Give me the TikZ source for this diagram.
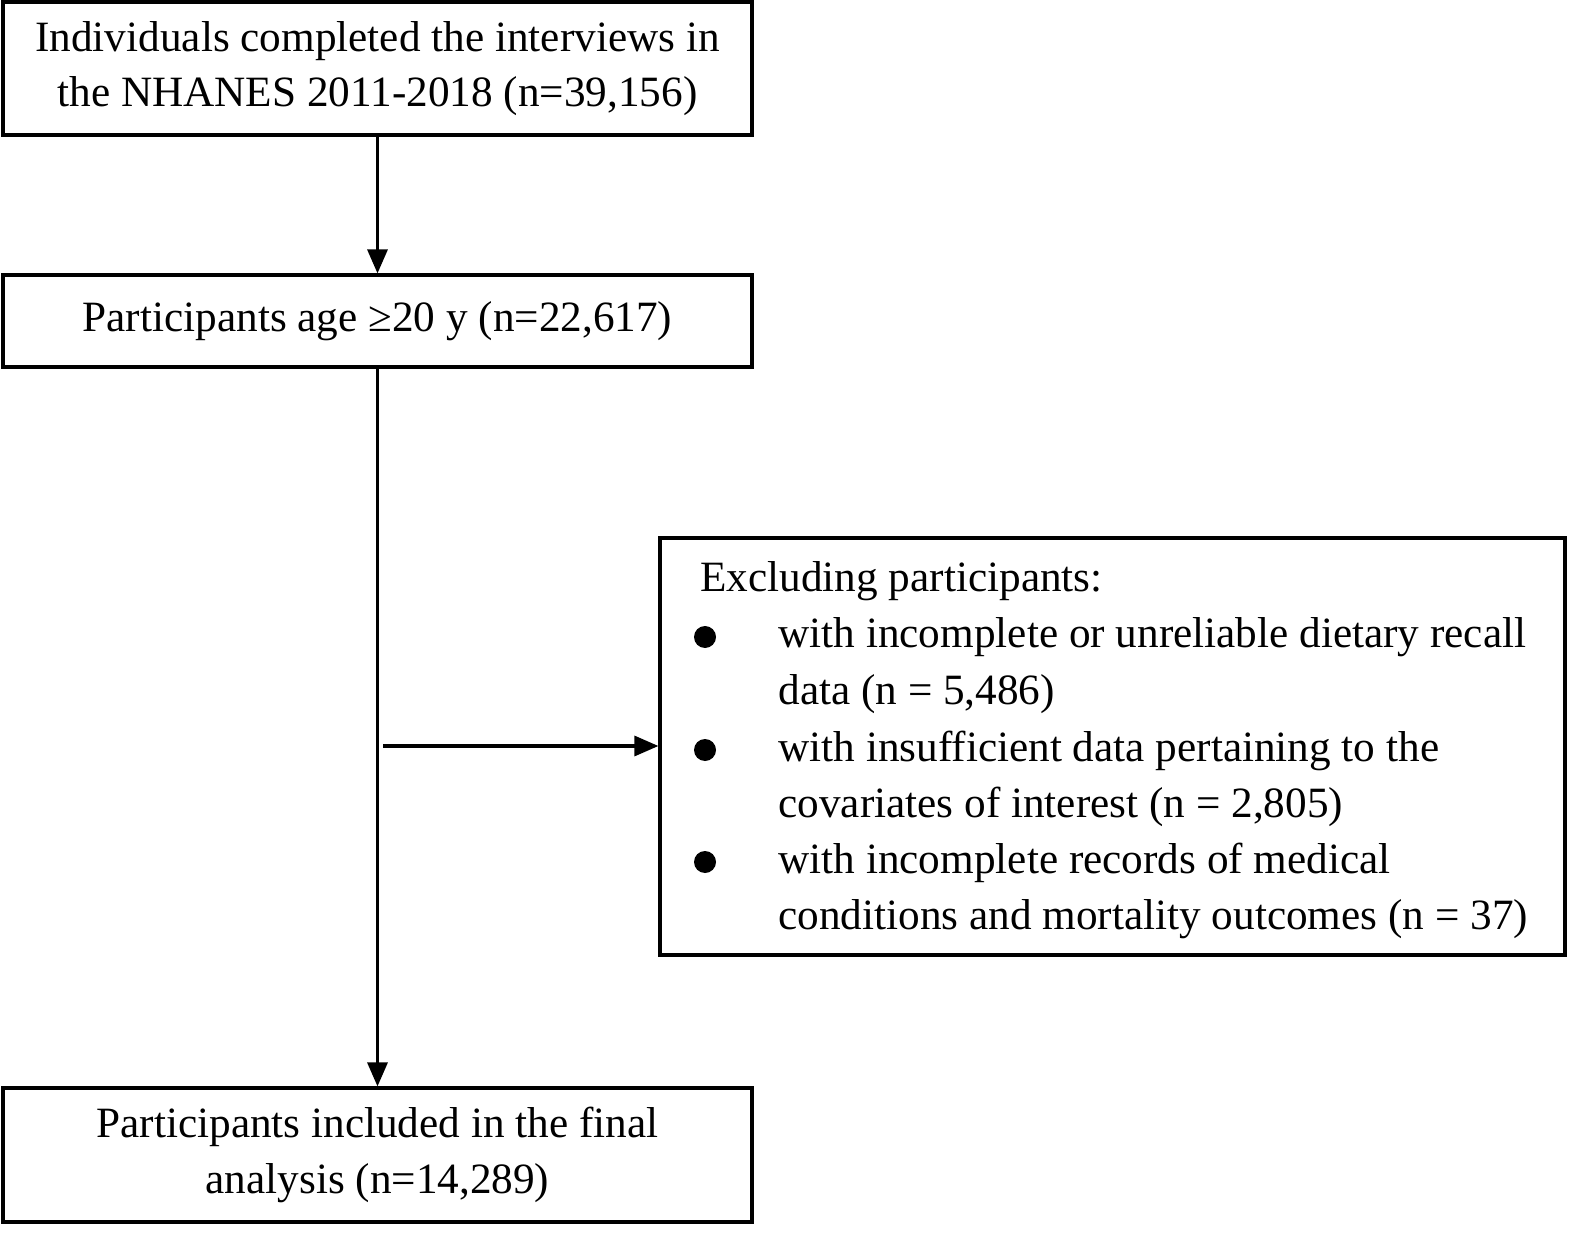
\documentclass[tikz,border=0pt]{standalone}
\usepackage{fontspec}
\setmainfont{Liberation Serif}
\usetikzlibrary{arrows.meta,positioning}
\tikzset{
  stagebox/.style = {draw, line width=0.9pt, minimum width=7.49cm, align=center, font=\fontsize{12.3}{15.8}\selectfont},
  flow/.style = {-{Triangle[length=2.4mm,width=2mm]}, line width=0.9pt},
  exline/.style = {anchor=base west, font=\fontsize{12.3}{15.8}\selectfont}
}
\begin{document}
\begin{tikzpicture}
  \useasboundingbox (0,0) rectangle (15.94,-12.45);

  \node[stagebox, minimum height=1.33cm] (interviews) at (3.775,-0.685)
    {Individuals completed the interviews in\\the NHANES 2011-2018 (n=39,156)};
  \node[stagebox, minimum height=0.92cm] (adults) at (3.775,-3.21)
    {Participants age ≥20 y (n=22,617)};
  \node[stagebox, minimum height=1.34cm] (final) at (3.775,-11.55)
    {Participants included in the final\\analysis (n=14,289)};

  \node[draw, line width=0.9pt, minimum width=9.05cm, minimum height=4.17cm] (exclude) at (11.125,-7.465) {};
  \node[exline] at (6.88,-5.92) {Excluding participants:};
  \foreach \y/\t in {6.48/{with incomplete or unreliable dietary recall},
                     7.04/{data (n = 5,486)},
                     7.61/{with insufficient data pertaining to the},
                     8.17/{covariates of interest (n = 2,805)},
                     8.73/{with incomplete records of medical},
                     9.29/{conditions and mortality outcomes (n = 37)}}
    \node[exline] at (7.66,-\y) {\t};
  \foreach \y in {6.37,7.50,8.62}
    \fill (7.05,-\y) circle (0.11);

  \draw[flow] (interviews) -- (adults);
  \draw[flow] (adults) -- (final);
  \coordinate (branch) at (3.83,-7.46);
  \draw[flow] (branch) -- (exclude.west |- branch);
\end{tikzpicture}
\end{document}
